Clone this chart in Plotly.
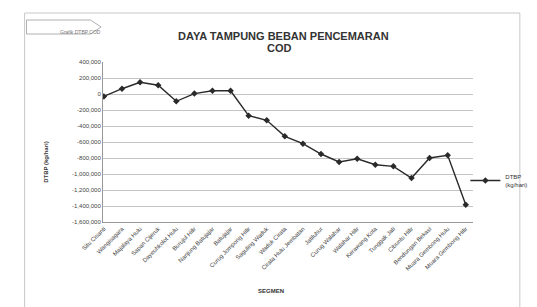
import plotly.graph_objects as go

segments = ["Situ Cisanti", "Wangisagara", "Majalaya Hulu", "Sapan Cijeruk", "Dayeuhkolot Hulu",
            "Burujul Hilir", "Nanjung Batujajar", "Batujajar", "Curug Jompong Hilir", "Saguling Waduk",
            "Waduk Cirata", "Cirata Hulu Jembatan", "Jatiluhur", "Curug Walahar", "Walahar Hilir",
            "Kerawang Kota", "Tunggak Jati", "Cibuntu Hilir", "Bendungan Bekasi", "Muara Gembong Hulu",
            "Muara Gembong Hilir"]
dtbp = [-30000, 66000, 146000, 109000, -91000, 5000, 41000, 41000, -271000, -329000,
        -529000, -621000, -750000, -850000, -809000, -884000, -904000, -1050000, -800000,
        -766000, -1384000]

y_ticks = [400000, 200000, 0, -200000, -400000, -600000, -800000, -1000000,
           -1200000, -1400000, -1600000]
y_ticktext = ["400,000", "200,000", "0", "-200,000", "-400,000", "-600,000", "-800,000",
              "-1,000,000", "-1,200,000", "-1,400,000", "-1,600,000"]

W, H = 537, 307
L, R, T, B = 95, 482, 54, 214


def px(x):
    return (x - L) / (R - L)


def py(y):
    return (B - y) / (B - T)


FONT = "Liberation Sans, Arial, sans-serif"

fig = go.Figure()
fig.add_trace(go.Scatter(
    x=segments, y=dtbp, mode="lines+markers",
    name="DTBP<br>(kg/hari)",
    line=dict(color="#2a2a2a", width=1.4),
    marker=dict(symbol="diamond", size=5, color="#2a2a2a"),
))

shapes = [
    dict(type="rect", xref="paper", yref="paper",
         x0=px(13), x1=px(531), y0=py(305), y1=py(5),
         line=dict(color="#c8c8c8", width=1), fillcolor="rgba(0,0,0,0)", layer="below"),
    dict(type="path", xref="paper", yref="paper",
         path=f"M {px(15)},{py(12)} L {px(82)},{py(12)} L {px(93)},{py(19)} "
              f"L {px(82)},{py(26)} L {px(15)},{py(26)} Z",
         line=dict(color="#b0b0b0", width=1), fillcolor="white"),
]

annotations = [
    dict(text="<b>DAYA TAMPUNG BEBAN PENCEMARAN</b>", xref="paper", yref="paper",
         x=px(284), y=py(20), showarrow=False, font=dict(family=FONT, size=11, color="#333")),
    dict(text="<b>COD</b>", xref="paper", yref="paper",
         x=px(280), y=py(32), showarrow=False, font=dict(family=FONT, size=11, color="#333")),
    dict(text="Grafik DTBP COD", xref="paper", yref="paper",
         x=px(48), y=py(19), showarrow=False, font=dict(family=FONT, size=5, color="#777")),
    dict(text="<b>DTBP (kg/hari)</b>", xref="paper", yref="paper", textangle=-90,
         x=px(30), y=py(154), showarrow=False, font=dict(family=FONT, size=6, color="#333")),
    dict(text="<b>SEGMEN</b>", xref="paper", yref="paper",
         x=px(271), y=py(288), showarrow=False, font=dict(family=FONT, size=6, color="#333")),
]

fig.update_layout(
    width=W, height=H,
    margin=dict(l=L, r=W - R, t=T, b=H - B),
    paper_bgcolor="white", plot_bgcolor="white",
    font=dict(family=FONT, size=6, color="#444"),
    showlegend=True,
    legend=dict(x=px(474), y=py(158), xanchor="left", yanchor="top",
                font=dict(family=FONT, size=6, color="#333"),
                bgcolor="rgba(0,0,0,0)", itemwidth=30, tracegroupgap=0),
    shapes=shapes, annotations=annotations,
)
fig.update_xaxes(
    type="category", range=[-0.05, 20.4], tickangle=-45,
    showgrid=False, showline=True, linecolor="#999", linewidth=1,
    ticks="", tickfont=dict(size=6, color="#444"),
)
fig.update_yaxes(
    range=[-1600000, 400000], tickvals=y_ticks, ticktext=y_ticktext,
    showgrid=True, gridcolor="#c4c4c4", gridwidth=1,
    showline=True, linecolor="#999", linewidth=1, zeroline=False,
    ticks="", tickfont=dict(size=6, color="#444"),
)

fig.write_html("out.html")
